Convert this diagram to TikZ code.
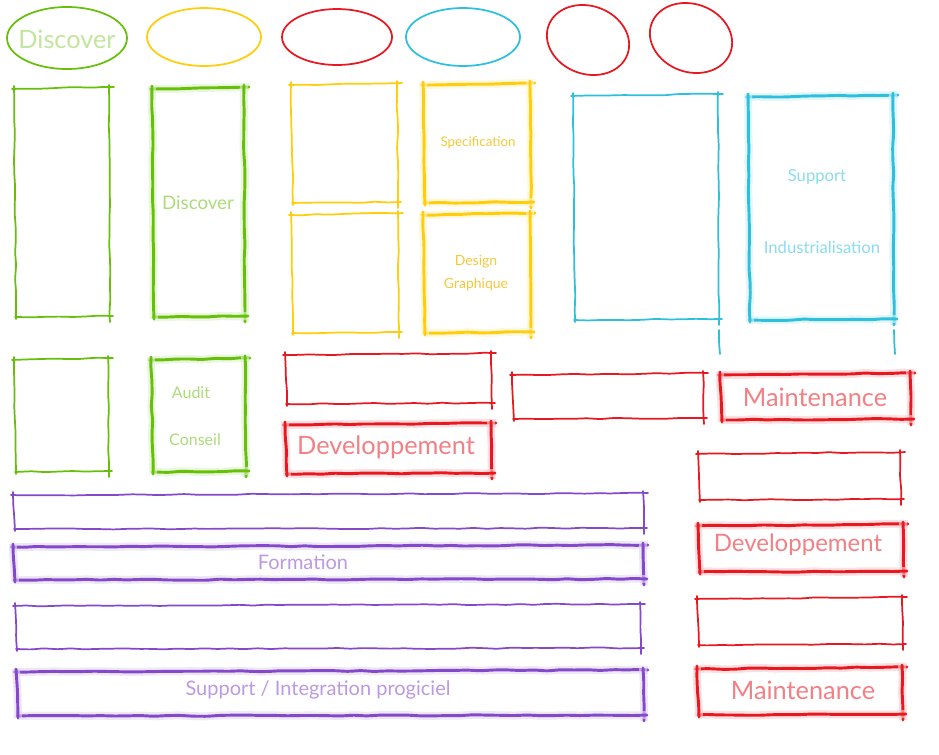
\documentclass[tikz,border=0pt]{standalone}
\usepackage{fontspec}
\setmainfont{Lato}
\usetikzlibrary{decorations.pathmorphing}
\definecolor{myGreen}{RGB}{102, 192, 10}
\definecolor{myYellow}{RGB}{255, 205, 10}
\definecolor{myYellowTxt}{RGB}{246, 200, 60}
\definecolor{myRed}{RGB}{232, 24, 32}
\definecolor{myCyan}{RGB}{45, 192, 222}
\definecolor{myPurple}{RGB}{132, 72, 202}
\tikzset{%%
  sk/.style={line width=1.3pt, line cap=round, line join=round, rounded corners=2pt,
    decorate, decoration={random steps, segment length=10pt, amplitude=0.45pt}},
  skglow/.style={sk, line width=2.2pt, draw=#1,
    preaction={draw=#1!22, line width=6pt, opacity=0.6}},
  skplain/.style={sk, draw=#1},
  ell/.style={draw=#1, line width=1.3pt},
  hand/.style={text=#1!55, inner sep=1pt}
  }
% one sketched box, edges drawn apart with overshoot
\newcommand{\skbox}[5]{%
  \draw[#1] (#2-3,#3+1) -- (#4+5,#3-1);
  \draw[#1] (#4,#3-3) -- (#4+1,#5+6);
  \draw[#1] (#4+4,#5) -- (#2,#5+1);
  \draw[#1] (#2+1,#5+3) -- (#2-1,#3-2);
}

\begin{document}
\begin{tikzpicture}[x=0.75pt, y=-0.75pt]
  \pgfmathsetseed{7}
  \fill[white] (0,0) rectangle (939,754);
  \useasboundingbox (0,0) rectangle (939,754);

  % ellipses
  \draw[ell=myGreen] (67,38) ellipse [x radius=60, y radius=31];
  \node[text=myGreen!40, inner sep=1pt, font=\fontsize{19}{20}\selectfont] (disc0) at (67,39) {Discover};
  \draw[ell=myYellow] (204,37) ellipse [x radius=57, y radius=29];
  \draw[ell=myRed] (337,37) ellipse [x radius=55, y radius=28];
  \draw[ell=myCyan] (463,37) ellipse [x radius=57, y radius=29];
  \draw[ell=myRed, rotate around={-20:(588,40)}] (588,40) ellipse [x radius=42, y radius=34];
  \draw[ell=myRed, rotate around={-20:(691,38)}] (691,38) ellipse [x radius=42, y radius=34];

  % green
  \skbox{skplain=myGreen}{15}{88}{109}{316}
  \skbox{skglow=myGreen}{153}{88}{244}{316}
  \node[hand=myGreen, font=\fontsize{14}{15}\selectfont] (disc1) at (198,203) {Discover};
  \skbox{skplain=myGreen}{15}{359}{108}{471}
  \skbox{skglow=myGreen}{152}{359}{245}{471}
  \node[hand=myGreen, font=\fontsize{12}{13}\selectfont] (audit) at (191,393) {Audit};
  \node[hand=myGreen, font=\fontsize{12}{13}\selectfont] (conseil) at (195,440) {Conseil};

  % yellow
  \skbox{skplain=myYellow}{292}{84}{397}{202}
  \skbox{skglow=myYellow}{424}{84}{530}{202}
  \node[text=myYellowTxt, inner sep=1pt, font=\fontsize{10}{11}\selectfont] (spec) at (478,143) {Specification};
  \skbox{skplain=myYellow}{292}{214}{398}{332}
  \skbox{skglow=myYellow}{424}{214}{530}{332}
  \node[text=myYellowTxt, inner sep=1pt, font=\fontsize{10.5}{11}\selectfont] (design) at (476,262) {Design};
  \node[text=myYellowTxt, inner sep=1pt, font=\fontsize{10.5}{11}\selectfont] (graph) at (476,285) {Graphique};

  % cyan
  \skbox{skplain=myCyan}{574}{95}{718}{319}
  \draw[skplain=myCyan] (719,330) -- (720,354);
  \skbox{skglow=myCyan}{749}{96}{893}{319}
  \draw[skplain=myCyan] (894,330) -- (895,354);
  \node[hand=myCyan, font=\fontsize{12.5}{13}\selectfont] (support) at (817,177) {Support};
  \node[hand=myCyan, font=\fontsize{12.5}{13}\selectfont] (indus) at (822,247) {Industrialisation};

  % red
  \skbox{skplain=myRed}{286}{354}{491}{403}
  \skbox{skglow=myRed}{286}{424}{491}{473}
  \node[hand=myRed, font=\fontsize{19}{20}\selectfont] (dev1) at (386,447) {Developpement};
  \skbox{skplain=myRed}{513}{374}{703}{418}
  \skbox{skglow=myRed}{721}{374}{910}{419}
  \node[hand=myRed, font=\fontsize{19}{20}\selectfont] (maint1) at (815,397) {Maintenance};
  \skbox{skplain=myRed}{699}{453}{900}{499}
  \skbox{skglow=myRed}{699}{525}{903}{571}
  \node[hand=myRed, font=\fontsize{18}{19}\selectfont] (dev2) at (798,545) {Developpement};
  \skbox{skplain=myRed}{698}{598}{902}{644}
  \skbox{skglow=myRed}{698}{668}{902}{714}
  \node[hand=myRed, font=\fontsize{19}{20}\selectfont] (maint2) at (803,690) {Maintenance};

  % purple
  \skbox{skplain=myPurple}{14}{494}{643}{528}
  \skbox{skglow=myPurple}{14}{546}{643}{579}
  \node[hand=myPurple, font=\fontsize{15}{16}\selectfont] (form) at (303,562) {Formation};
  \skbox{skplain=myPurple}{16}{605}{640}{648}
  \skbox{skglow=myPurple}{17}{671}{643}{715}
  \node[hand=myPurple, font=\fontsize{15}{16}\selectfont] (supint) at (318,690) {Support / Integration progiciel};
\end{tikzpicture}
\end{document}
